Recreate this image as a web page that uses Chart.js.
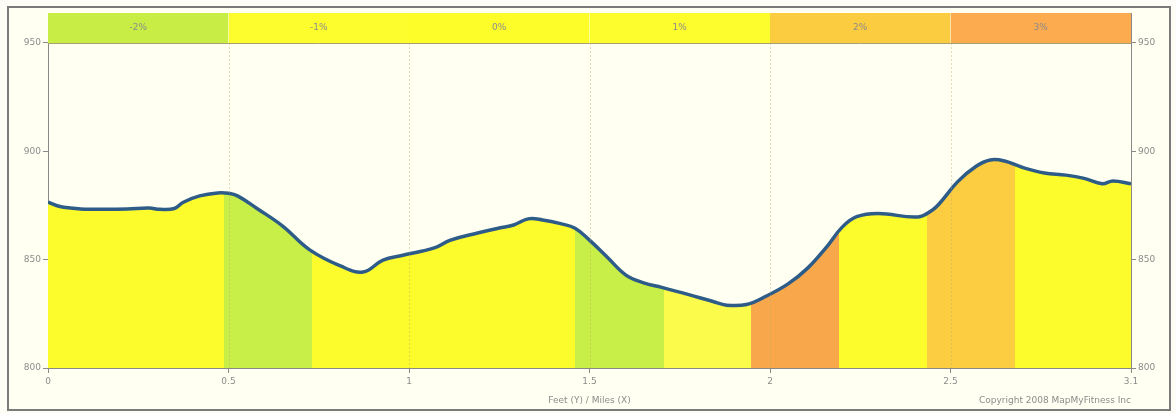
<!DOCTYPE html>
<html>
<head>
<meta charset="utf-8">
<script src="https://cdn.jsdelivr.net/npm/chart.js@4.4.1/dist/chart.umd.min.js"></script>
<style>
html, body { margin: 0; padding: 0; background: #fdfdf6; }
#frame { position: absolute; left: 7px; top: 6px; width: 1160px; height: 401px; border: 2px solid #7a7a7a; background: #fffff2; }
#wrap { position: absolute; left: 0; top: 0; width: 1176px; height: 413px; }
</style>
</head>
<body>
<div id="frame"></div>
<div id="wrap"><canvas id="elevation-chart" width="1176" height="413"></canvas></div>
<script>
// elevation profile (miles, feet)
const distances = [0, 0.033, 0.09, 0.14, 0.22, 0.28, 0.31, 0.35, 0.375, 0.42, 0.47, 0.5, 0.525, 0.58, 0.65, 0.725,
    0.81, 0.873, 0.928, 0.983, 1.07, 1.115, 1.19, 1.25, 1.29, 1.33, 1.37, 1.42, 1.46, 1.5, 1.55, 1.6, 1.65, 1.7,
    1.77, 1.84, 1.88, 1.935, 1.99, 2.05, 2.105, 2.16, 2.2, 2.24, 2.3, 2.41, 2.45, 2.47, 2.52, 2.57, 2.61, 2.65,
    2.7, 2.76, 2.82, 2.87, 2.92, 2.95, 3.0];
const elevations = [876.5, 874.5, 873.4, 873.3, 873.4, 873.8, 873.2, 873.6, 876.5, 879.4, 880.8, 880.6, 879.4, 873.5,
    865.5, 854.5, 847.1, 844.3, 849.8, 852, 855.4, 859, 862.3, 864.6, 866, 868.8, 868.3, 866.6, 864.5, 859, 851,
    843, 839.3, 837.2, 834.1, 830.8, 829, 829.3, 833.2, 838.8, 846.2, 856.5, 865, 869.8, 871.3, 869.7, 872.9,
    876, 886, 893, 896, 895.5, 892.5, 890, 889, 887.5, 885, 886.3, 885];

// grade colouring under the profile
const segmentBounds = [0, 0.487, 0.73, 1.46, 1.705, 1.948, 2.19, 2.435, 2.68, 3.0];
const segmentColors = ['#fcfc2c', '#c8ee48', '#fcfc2c', '#c8ee48', '#fbfb4c', '#f8a84a', '#fcfc2c', '#fccd40', '#fcfc2c'];

// grade legend strip along the top
const gradeLabels = ['-2%', '-1%', '0%', '1%', '2%', '3%'];
const gradeColors = ['#c8ee46', '#fdfd2e', '#fdfd2a', '#fdfd2e', '#fccc40', '#fcab4e'];
const gradeStarts = [0, 0.5, 1, 1.5, 2, 2.5];
const gradeEnds = [0.5, 1, 1.5, 2, 2.5, 3];

const yTicks = [800, 850, 900, 950];
const xTicks = [0, 0.5, 1, 1.5, 2, 2.5, 3];
const xTickLabels = ['0', '0.5', '1', '1.5', '2', '2.5', '3.1'];
const yMin = 800;
const yMax = 963.8;
const stripBase = 950;

const textColor = '#8c8c8c';
const axisColor = '#8a8a8a';
const tickFont = { family: 'DejaVu Sans', size: 9 };

function profileFill(context) {
    const chart = context.chart;
    const area = chart.chartArea;
    if (!area) return segmentColors[0];
    const x = chart.scales.x;
    const w = area.right - area.left;
    const grad = chart.ctx.createLinearGradient(area.left, 0, area.right, 0);
    for (let i = 0; i < segmentColors.length; i++) {
        const p0 = Math.min(1, Math.max(0, (x.getPixelForValue(segmentBounds[i]) - area.left) / w));
        const p1 = Math.min(1, Math.max(0, (x.getPixelForValue(segmentBounds[i + 1]) - area.left) / w));
        grad.addColorStop(p0, segmentColors[i]);
        grad.addColorStop(p1, segmentColors[i]);
    }
    return grad;
}

const stripSets = gradeLabels.map((label, i) => ({
    label: label,
    data: [{ x: gradeStarts[i], y: yMax }, { x: gradeEnds[i], y: yMax }],
    fill: { value: stripBase },
    backgroundColor: gradeColors[i],
    borderWidth: 0,
    pointRadius: 0,
    order: 3
}));

const overlay = {
    id: 'overlay',
    afterDatasetsDraw(chart) {
        const { ctx, chartArea, scales } = chart;
        const x = scales.x, y = scales.y;
        ctx.save();
        // dotted verticals at each mile tick
        ctx.strokeStyle = 'rgba(190, 170, 110, 0.45)';
        ctx.lineWidth = 1;
        ctx.setLineDash([2, 2]);
        xTicks.slice(1, -1).forEach(v => {
            const px = Math.round(x.getPixelForValue(v)) + 0.5;
            ctx.beginPath();
            ctx.moveTo(px, y.getPixelForValue(stripBase));
            ctx.lineTo(px, chartArea.bottom);
            ctx.stroke();
        });
        ctx.setLineDash([]);
        // strip bottom line
        const yb = Math.round(y.getPixelForValue(stripBase)) + 0.5;
        ctx.strokeStyle = '#a8a070';
        ctx.beginPath();
        ctx.moveTo(chartArea.left, yb);
        ctx.lineTo(chartArea.right, yb);
        ctx.stroke();
        // grade labels
        ctx.fillStyle = textColor;
        ctx.font = '9px "DejaVu Sans"';
        ctx.textAlign = 'center';
        ctx.textBaseline = 'middle';
        const ym = (y.getPixelForValue(stripBase) + y.getPixelForValue(yMax)) / 2;
        gradeLabels.forEach((label, i) => {
            ctx.fillText(label, x.getPixelForValue((gradeStarts[i] + gradeEnds[i]) / 2), ym);
        });
        // footer texts
        ctx.textBaseline = 'alphabetic';
        ctx.fillText('Feet (Y) / Miles (X)', x.getPixelForValue(1.5), chartArea.bottom + 35);
        ctx.textAlign = 'right';
        ctx.fillText('Copyright 2008 MapMyFitness Inc', chartArea.right, chartArea.bottom + 35);
        ctx.restore();
    }
};

const chart = new Chart(document.getElementById('elevation-chart').getContext('2d'), {
    type: 'line',
    data: {
        datasets: [{
            label: 'Elevation',
            data: distances.map((d, i) => ({ x: d, y: elevations[i] })),
            borderColor: '#2e5c88',
            borderWidth: 3.5,
            backgroundColor: profileFill,
            fill: 'start',
            tension: 0.4,
            pointRadius: 0,
            order: 1
        }, ...stripSets]
    },
    options: {
        responsive: false,
        animation: false,
        layout: { padding: { left: 0, right: 0, top: 13, bottom: 23 } },
        plugins: { legend: { display: false }, tooltip: { enabled: false } },
        scales: {
            x: {
                type: 'linear',
                min: 0,
                max: 3,
                afterBuildTicks: scale => { scale.ticks = xTicks.map(v => ({ value: v })); },
                afterFit: scale => { scale.height = 22; },
                ticks: {
                    color: textColor,
                    font: tickFont,
                    padding: 3,
                    maxRotation: 0,
                    callback: (v) => xTickLabels[xTicks.indexOf(v)]
                },
                grid: { drawOnChartArea: false, tickLength: 5, color: axisColor },
                border: { color: axisColor }
            },
            y: {
                position: 'left',
                min: yMin,
                max: yMax,
                afterBuildTicks: scale => { scale.ticks = yTicks.map(v => ({ value: v })); },
                afterFit: scale => { scale.width = 48; },
                ticks: { color: textColor, font: tickFont, padding: 2 },
                grid: { drawOnChartArea: false, tickLength: 5, color: axisColor },
                border: { color: axisColor }
            },
            y2: {
                position: 'right',
                display: true,
                min: yMin,
                max: yMax,
                afterBuildTicks: scale => { scale.ticks = yTicks.map(v => ({ value: v })); },
                afterFit: scale => { scale.width = 45; },
                ticks: { color: textColor, font: tickFont, padding: 2 },
                grid: { drawOnChartArea: false, tickLength: 5, color: axisColor },
                border: { color: axisColor }
            }
        }
    },
    plugins: [overlay]
});
</script>
</body>
</html>
